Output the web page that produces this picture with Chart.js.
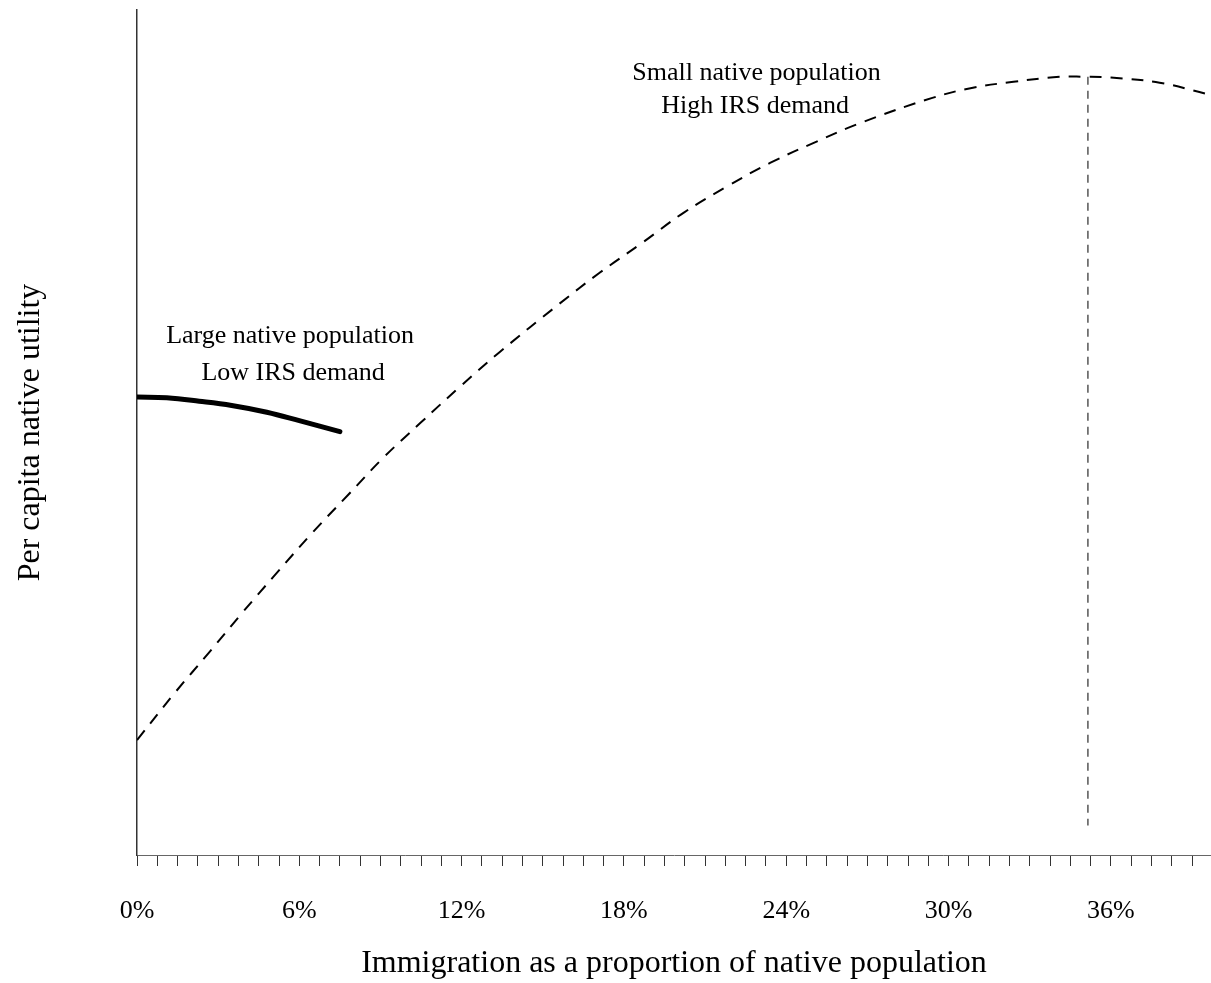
<!DOCTYPE html>
<html>
<head>
<meta charset="utf-8">
<script src="https://cdn.jsdelivr.net/npm/chart.js@4/dist/chart.umd.min.js"></script>
<style>
    html, body { margin: 0; padding: 0; background: #fff; }
    #wrap { width: 1211px; height: 983px; position: relative; }
</style>
</head>
<body>
<div id="wrap"><canvas id="myChart"></canvas></div>
<script>
// small native population, high IRS demand (dashed)
const highX = [0, 1.4, 2.7, 3.9, 5.2, 6.5, 7.8, 9.1, 10.5, 12.0, 13.4, 15.6, 17.1, 18.7, 20.2, 21.8, 23.4, 25.1, 26.8, 29.4, 30.9, 32.4, 34.1, 35.0, 36.0, 37.8, 39.5];
const highY = [13.6, 19.2, 24.1, 28.7, 33.5, 38.2, 42.6, 47.0, 51.2, 55.6, 59.5, 65.2, 68.9, 72.5, 76.0, 79.1, 81.9, 84.4, 86.7, 89.6, 90.8, 91.5, 92.1, 92.1, 92.0, 91.4, 90.1];

// large native population, low IRS demand (solid)
const lowX = [0, 1.1, 2.3, 3.5, 4.8, 6.0, 7.5];
const lowY = [54.2, 54.1, 53.7, 53.2, 52.4, 51.4, 50.1];

// dropline at the optimum
const optX = [35.15, 35.15];
const optY = [92.1, 3.5];

const noteText = ['Small native population', 'High IRS demand', 'Large native population', 'Low IRS demand'];

function pts(xs, ys){
    return xs.map(function(x, i){ return {x: x, y: ys[i]}; });
}

// draws the text notes at data coordinates
const notesPlugin = {
    id: 'notes',
    afterDatasetsDraw: function(chart, args, opts){
        const ctx = chart.ctx;
        const xs = chart.scales.x, ys = chart.scales.y;
        ctx.save();
        ctx.font = opts.font;
        ctx.fillStyle = '#000';
        ctx.textAlign = 'center';
        ctx.textBaseline = 'middle';
        opts.items.forEach(function(it){
            ctx.fillText(it.text, xs.getPixelForValue(it.x), ys.getPixelForValue(it.y));
        });
        ctx.restore();
    }
};

const serif = '"Liberation Serif", "Times New Roman", serif';

new Chart(document.getElementById('myChart'), {
    type: 'scatter',
    data: {
        datasets: [{
            data: pts(highX, highY),
            showLine: true,
            borderColor: '#000',
            borderWidth: 2,
            borderDash: [12, 9],
            pointRadius: 0,
            tension: 0.4
        }, {
            data: pts(lowX, lowY),
            showLine: true,
            borderColor: '#000',
            borderWidth: 5,
            borderCapStyle: 'round',
            pointRadius: 0,
            tension: 0.4
        }, {
            data: pts(optX, optY),
            showLine: true,
            borderColor: '#555',
            borderWidth: 1.5,
            borderDash: [8, 6],
            pointRadius: 0
        }]
    },
    options: {
        responsive: true,
        maintainAspectRatio: false,
        animation: false,
        layout: { padding: { top: 10, right: 0, left: 0, bottom: 0 } },
        plugins: {
            legend: { display: false },
            tooltip: { enabled: false },
            notes: {
                font: '26px ' + serif,
                items: [
                    {text: noteText[0], x: 22.9, y: 92.5},
                    {text: noteText[1], x: 22.85, y: 88.6},
                    {text: noteText[2], x: 5.66, y: 61.4},
                    {text: noteText[3], x: 5.77, y: 57.0}
                ]
            }
        },
        scales: {
            x: {
                type: 'linear',
                min: 0,
                max: 39.7,
                afterFit: function(scale){
                    scale.height = 128;
                    scale.paddingLeft = 0;
                    scale.paddingRight = 0;
                },
                border: { display: true, color: '#666', width: 1 },
                grid: { drawOnChartArea: false, drawTicks: true, tickLength: 11, color: '#333' },
                ticks: {
                    stepSize: 0.75,
                    includeBounds: false,
                    autoSkip: false,
                    maxRotation: 0,
                    padding: 30,
                    color: '#000',
                    font: { family: serif, size: 26 },
                    callback: function(v){
                        const k = v / 6;
                        return Math.abs(k - Math.round(k)) < 1e-6 ? Math.round(v) + '%' : '';
                    }
                },
                title: {
                    display: true,
                    text: 'Immigration as a proportion of native population',
                    color: '#000',
                    font: { family: serif, size: 32 },
                    padding: { top: 0, bottom: 0 }
                }
            },
            y: {
                min: 0,
                max: 100,
                afterFit: function(scale){ scale.width = 137; },
                border: { display: true, color: '#333', width: 1.5 },
                grid: { display: false },
                ticks: { display: false },
                title: {
                    display: true,
                    text: 'Per capita native utility',
                    color: '#000',
                    font: { family: serif, size: 32 },
                    padding: { top: 11, bottom: 0 }
                }
            }
        }
    },
    plugins: [notesPlugin]
});
</script>
</body>
</html>
